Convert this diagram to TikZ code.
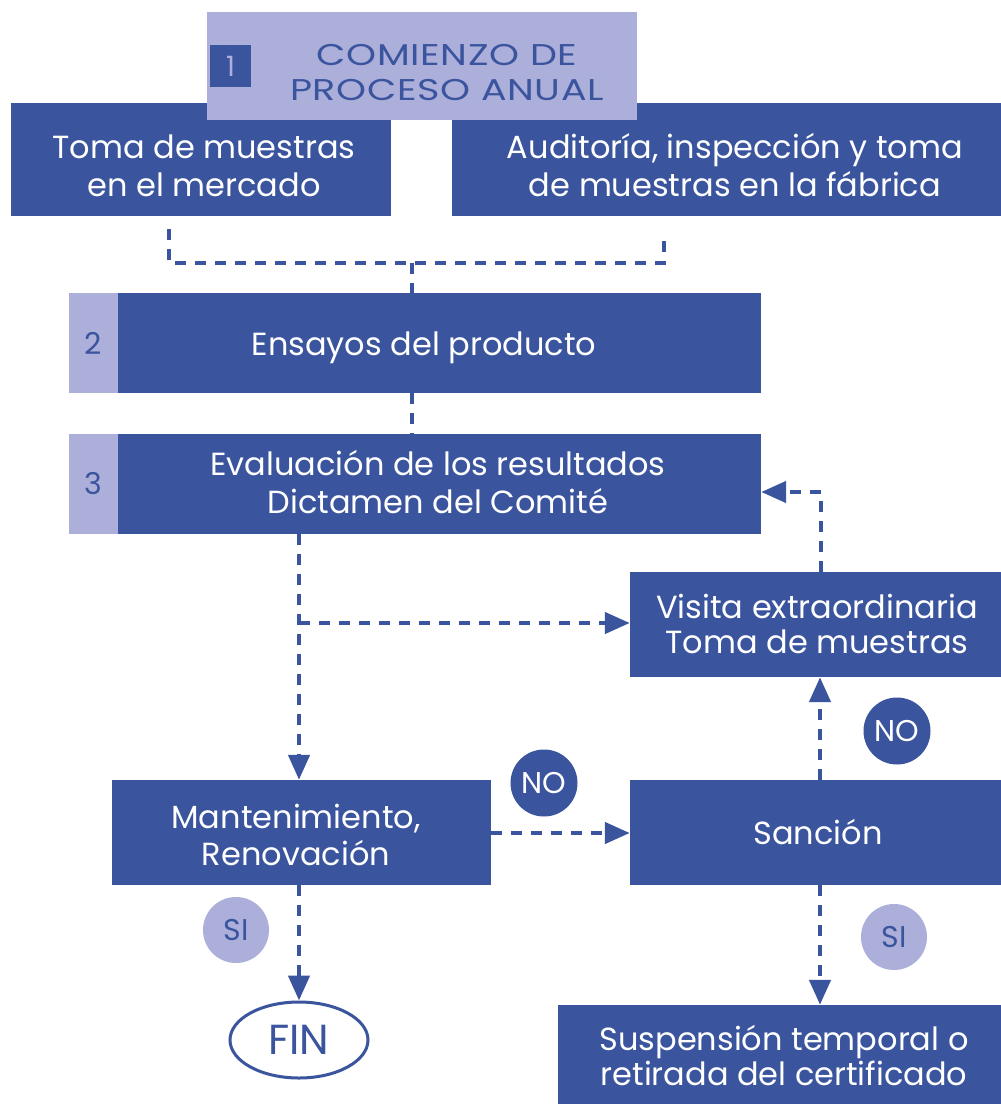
\documentclass[tikz,border=0pt]{standalone}
\usepackage{fontspec}
\setmainfont{Poppins}
\newfontfamily\capsfont{Poppins}[FakeStretch=1.27,LetterSpace=2]
\usetikzlibrary{arrows.meta,shapes.geometric}
\definecolor{dkblue}{RGB}{58,84,158}
\definecolor{lav}{RGB}{172,175,218}
\begin{document}
\begin{tikzpicture}[x=1pt,y=-1pt,
  darkbox/.style={fill=dkblue,draw=none,inner sep=0pt},
  lavbox/.style={fill=lav,draw=none,inner sep=0pt},
  wtext/.style={text=white,anchor=base,inner sep=0pt,font=\fontsize{32}{38}\selectfont},
  btext/.style={text=dkblue,anchor=base,inner sep=0pt,font=\capsfont\fontsize{30}{35}\selectfont},
  conn/.style={draw=dkblue,line width=4.5pt,dash pattern=on 11pt off 9pt},
  arr/.style={conn,-{Triangle[length=25pt,width=21pt]}},
  nocirc/.style={circle,fill=dkblue,text=white,minimum size=67pt,inner sep=0pt,font=\fontsize{30}{30}\selectfont},
  sicirc/.style={circle,fill=lav,text=dkblue,minimum size=66pt,inner sep=0pt,font=\fontsize{30}{30}\selectfont}]
\useasboundingbox (0,0) rectangle (1001,1104);
\fill[white] (0,0) rectangle (1001,1104);

% top row
\node[darkbox,minimum width=380pt,minimum height=113pt] (topL) at (201,159.5) {};
\node[wtext] (topLa) at (204,158) {Toma de muestras};
\node[wtext] (topLb) at (204,196) {en el mercado};
\node[darkbox,minimum width=549pt,minimum height=113pt] (topR) at (726.5,159.5) {};
\node[wtext] (topRa) at (735,158) {Auditoría, inspección y toma};
\node[wtext] (topRb) at (735,196) {de muestras en la fábrica};
\node[lavbox,minimum width=430pt,minimum height=108pt] (start) at (422,66) {};
\node[darkbox,minimum width=41pt,minimum height=42pt,text=lav,font=\fontsize{28}{28}\selectfont] (n1) at (230.5,66) {1};
\node[btext] (starta) at (447,65) {COMIENZO DE};
\node[btext] (startb) at (447,100) {PROCESO ANUAL};

% step 2 and 3
\node[lavbox,minimum width=49pt,minimum height=100pt,text=dkblue,font=\fontsize{30}{30}\selectfont] (s2) at (93.5,343) {2};
\node[darkbox,minimum width=643pt,minimum height=100pt] (box2) at (439.5,343) {};
\node[wtext] (box2t) at (424,355) {Ensayos del producto};
\node[lavbox,minimum width=49pt,minimum height=100pt,text=dkblue,font=\fontsize{30}{30}\selectfont] (s3) at (93.5,484) {3};
\node[darkbox,minimum width=643pt,minimum height=100pt] (box3) at (439.5,484) {};
\node[wtext] (box3a) at (438,475) {Evaluación de los resultados};
\node[wtext] (box3b) at (438,513) {Dictamen del Comité};

% right column
\node[darkbox,minimum width=371pt,minimum height=105pt] (visita) at (815.5,624.5) {};
\node[wtext] (visitaa) at (817,618) {Visita extraordinaria};
\node[wtext] (visitab) at (817,653) {Toma de muestras};
\node[darkbox,minimum width=371pt,minimum height=105pt] (sancion) at (815.5,832.5) {};
\node[wtext] (sanciont) at (818,844) {Sanción};
\node[darkbox,minimum width=443pt,minimum height=99pt] (susp) at (779.5,1054.5) {};
\node[wtext] (suspa) at (784,1050) {Suspensión temporal o};
\node[wtext] (suspb) at (784,1085) {retirada del certificado};

% left column
\node[darkbox,minimum width=379pt,minimum height=105pt] (mant) at (301.5,832.5) {};
\node[wtext] (manta) at (296,828) {Mantenimiento,};
\node[wtext] (mantb) at (296,865) {Renovación};
\node[ellipse,draw=dkblue,line width=3pt,fill=white,minimum width=138pt,minimum height=76pt,inner sep=0pt,text=dkblue,font=\fontsize{42}{42}\selectfont] (fin) at (299,1040) {FIN};

% decision circles
\node[nocirc] (no1) at (544,783) {NO};
\node[nocirc] (no2) at (897,731) {NO};
\node[sicirc] (si1) at (236,930) {SI};
\node[sicirc] (si2) at (894,937) {SI};

% connectors
\coordinate (cL) at (169,229);
\coordinate (cR) at (664,233);
\coordinate (cJ) at (412,263);
\draw[conn] (cL) -- (cL |- cJ) -- (cR |- cJ) -- (cR);
\draw[conn] (cJ) -- (cJ |- box2.north);
\draw[conn] (box2.south -| cJ) -- (box3.north -| cJ);
\coordinate (cD) at (299,623);
\draw[arr] (box3.south -| cD) -- (mant.north -| cD);
\draw[arr] (cD) -- (visita.west |- cD);
\coordinate (cU) at (821,492);
\draw[arr] (visita.north -| cU) -- (cU) -- (box3.east |- cU);
\coordinate (cH) at (491,833);
\draw[arr] (mant.east |- cH) -- (sancion.west |- cH);
\coordinate (cV) at (820,0);
\draw[arr] (sancion.north -| cV) -- (visita.south -| cV);
\draw[arr] (sancion.south -| cV) -- (susp.north -| cV);
\draw[arr] (mant.south -| cD) -- (fin.north);
\end{tikzpicture}
\end{document}
